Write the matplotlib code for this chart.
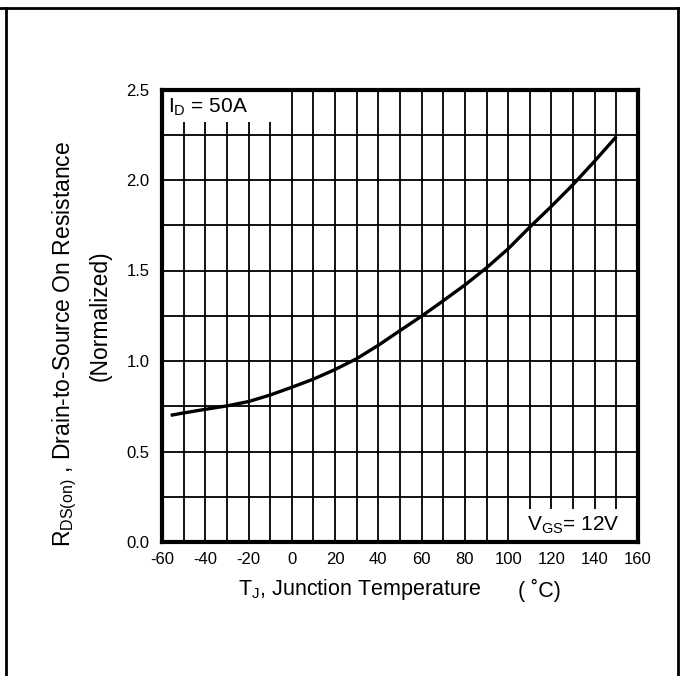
import matplotlib
matplotlib.use("Agg")
import matplotlib.pyplot as plt
from matplotlib.lines import Line2D
from matplotlib.patches import Rectangle
from matplotlib.ticker import MultipleLocator

plt.rcParams["font.family"] = ["Liberation Sans", "DejaVu Sans"]
plt.rcParams["mathtext.default"] = "regular"
plt.rcParams["axes.unicode_minus"] = False

# Normalized RDS(on) vs junction temperature
temp_c = [-56, -50, -40, -30, -20, -10, 0, 10, 20, 30, 40, 50,
          60, 70, 80, 90, 100, 110, 120, 130, 140, 150]
rds_norm = [0.700, 0.713, 0.733, 0.752, 0.776, 0.812, 0.855, 0.900, 0.953,
            1.013, 1.087, 1.168, 1.248, 1.333, 1.420, 1.515, 1.620, 1.740,
            1.855, 1.975, 2.105, 2.240]

x_ticks = [-60, -40, -20, 0, 20, 40, 60, 80, 100, 120, 140, 160]
y_ticks = [0.0, 0.5, 1.0, 1.5, 2.0, 2.5]

W, H = 680, 676
fig = plt.figure(figsize=(W / 100, H / 100), dpi=100)
ax = fig.add_axes([162 / W, 1 - 542 / H, 476 / W, 452.5 / H])

ax.plot(temp_c, rds_norm, color="black", lw=2.4, solid_capstyle="butt", zorder=3)

ax.set_xlim(-60, 160)
ax.set_ylim(0, 2.5)
ax.set_xticks(x_ticks)
ax.set_yticks(y_ticks)
ax.set_yticklabels([f"{v:.1f}" for v in y_ticks])
ax.xaxis.set_minor_locator(MultipleLocator(10))
ax.yaxis.set_minor_locator(MultipleLocator(0.25))
ax.tick_params(which="both", length=0, labelsize=12)
ax.tick_params(axis="x", pad=7)
ax.tick_params(axis="y", pad=9)
ax.set_axisbelow(True)
ax.grid(which="both", color="black", lw=1.3)
for sp in ax.spines.values():
    sp.set_linewidth(3)

# white boxes behind the annotations break the grid
ax.add_patch(Rectangle((-60, 2.32), 58, 0.18, facecolor="white",
                       edgecolor="none", zorder=1.5))
ax.add_patch(Rectangle((102, 0), 58, 0.18, facecolor="white",
                       edgecolor="none", zorder=1.5))
ax.text(-57.2, 2.40, "I$_{D}$ = 50A", fontsize=15, va="center", ha="left", zorder=4)
ax.text(151.6, 0.094, "V$_{GS}$= 12V", fontsize=15, va="center", ha="right", zorder=4)

fig.text(238 / W, 1 - 590 / H, "T$_{J}$, Junction Temperature",
         fontsize=15.5, ha="left", va="center")
fig.text(518 / W, 1 - 590 / H, "( ˚C)", fontsize=15.5, ha="left", va="center")
fig.text(65 / W, 1 - 344 / H, "R$_{DS(on)}$ , Drain-to-Source On Resistance",
         fontsize=16.5, rotation=90, ha="center", va="center")
fig.text(100 / W, 1 - 316 / H, "(Normalized)",
         fontsize=16.5, rotation=90, ha="center", va="center")

# outer frame (open at the bottom)
fig.add_artist(Line2D([0, 678 / W], [1 - 7.5 / H] * 2, color="black", lw=2,
                      transform=fig.transFigure))
fig.add_artist(Line2D([5.5 / W] * 2, [0, 1 - 7.5 / H], color="black", lw=2,
                      transform=fig.transFigure))
fig.add_artist(Line2D([678 / W] * 2, [0, 1 - 7.5 / H], color="black", lw=2,
                      transform=fig.transFigure))

fig.savefig("out.png", dpi=100)
